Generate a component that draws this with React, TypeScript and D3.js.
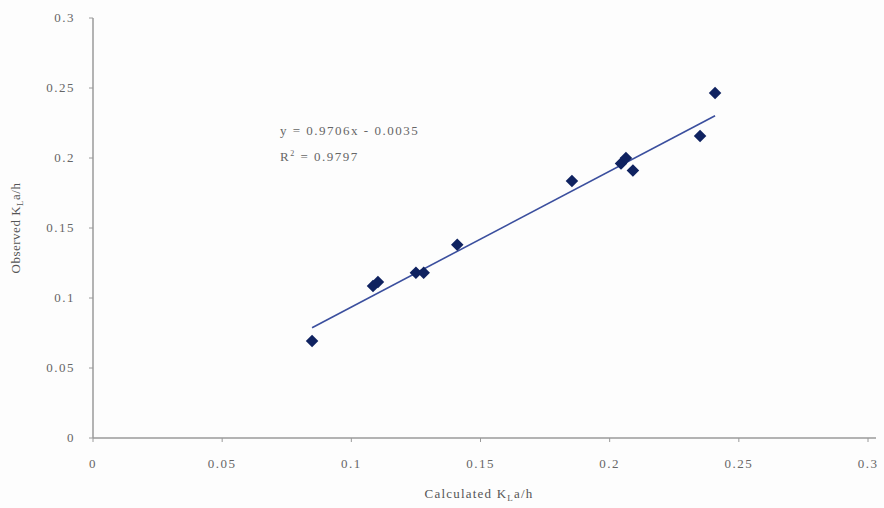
import { useRef, useEffect } from 'react'
import * as d3 from 'd3'

// calculated vs observed KLa/h
const calculated = [0.0848, 0.1084, 0.1103, 0.125, 0.128, 0.141, 0.1854, 0.2044, 0.2063, 0.209, 0.235, 0.2408]
const observed = [0.0693, 0.1086, 0.1114, 0.118, 0.118, 0.138, 0.1836, 0.196, 0.2, 0.191, 0.2157, 0.2464]
const xTicks = [0, 0.05, 0.1, 0.15, 0.2, 0.25, 0.3]
const yTicks = [0, 0.05, 0.1, 0.15, 0.2, 0.25, 0.3]
const slope = 0.9706
const intercept = -0.0035

export default function App() {
    const ref = useRef<SVGSVGElement>(null)

    useEffect(() => {
        const width = 884
        const height = 508
        const svg = d3.select(ref.current)
        svg.selectAll('*').remove()

        const x = d3.scaleLinear().domain([0, 0.3]).range([93, 868])
        const y = d3.scaleLinear().domain([0, 0.3]).range([438, 18])
        const grey = '#9a9a9a'
        const font = 'Liberation Serif, DejaVu Serif, serif'

        svg.append('rect').attr('width', width).attr('height', height).attr('fill', '#fdfdfd')

        // axes
        svg.append('line').attr('x1', x(0)).attr('x2', 876).attr('y1', y(0)).attr('y2', y(0))
            .attr('stroke', grey).attr('stroke-width', 1.5)
        svg.append('line').attr('x1', x(0)).attr('x2', x(0)).attr('y1', y(0)).attr('y2', y(0.3))
            .attr('stroke', grey).attr('stroke-width', 1.5)

        svg.selectAll('line.xt').data(xTicks).enter().append('line')
            .attr('x1', d => x(d)).attr('x2', d => x(d)).attr('y1', y(0)).attr('y2', y(0) + 4)
            .attr('stroke', grey)
        svg.selectAll('line.yt').data(yTicks).enter().append('line')
            .attr('x1', x(0) - 4).attr('x2', x(0)).attr('y1', d => y(d)).attr('y2', d => y(d))
            .attr('stroke', grey)

        svg.selectAll('text.xl').data(xTicks).enter().append('text')
            .attr('x', d => x(d)).attr('y', 468).attr('text-anchor', 'middle')
            .style('font-family', font).style('font-size', '13px').style('letter-spacing', '1.5px')
            .attr('fill', '#666').text(d => String(d))
        svg.selectAll('text.yl').data(yTicks).enter().append('text')
            .attr('x', 75).attr('y', d => y(d) + 4).attr('text-anchor', 'end')
            .style('font-family', font).style('font-size', '13px').style('letter-spacing', '1.5px')
            .attr('fill', '#666').text(d => String(d))

        // axis titles
        const xt = svg.append('text').attr('x', 479).attr('y', 498).attr('text-anchor', 'middle')
            .style('font-family', font).style('font-size', '13px').style('letter-spacing', '1.2px').attr('fill', '#555')
        xt.append('tspan').text('Calculated K')
        xt.append('tspan').attr('dy', 3).style('font-size', '9px').text('L')
        xt.append('tspan').attr('dy', -3).text('a/h')

        const yt = svg.append('text').attr('transform', 'translate(20,228) rotate(-90)').attr('text-anchor', 'middle')
            .style('font-family', font).style('font-size', '13px').style('letter-spacing', '0.5px').attr('fill', '#555')
        yt.append('tspan').text('Observed K')
        yt.append('tspan').attr('dy', 3).style('font-size', '9px').text('L')
        yt.append('tspan').attr('dy', -3).text('a/h')

        // trendline
        const x0 = d3.min(calculated) as number
        const x1 = d3.max(calculated) as number
        svg.append('line')
            .attr('x1', x(x0)).attr('y1', y(slope * x0 + intercept))
            .attr('x2', x(x1)).attr('y2', y(slope * x1 + intercept))
            .attr('stroke', '#3b4f9e').attr('stroke-width', 1.6)

        // points
        const diamond = d3.symbol().type(d3.symbolDiamond2).size(100)
        svg.selectAll('path.pt').data(calculated).enter().append('path')
            .attr('transform', (d, i) => `translate(${x(d)},${y(observed[i])})`)
            .attr('d', diamond()).attr('fill', '#0f2260')

        // equation
        svg.append('text').attr('x', 280).attr('y', 135)
            .style('font-family', font).style('font-size', '13px').style('letter-spacing', '1.5px').attr('fill', '#666')
            .text('y = 0.9706x - 0.0035')
        const r2 = svg.append('text').attr('x', 280).attr('y', 161)
            .style('font-family', font).style('font-size', '13px').style('letter-spacing', '1.5px').attr('fill', '#666')
        r2.append('tspan').text('R')
        r2.append('tspan').attr('dy', -5).style('font-size', '8px').text('2')
        r2.append('tspan').attr('dy', 5).text(' = 0.9797')
    }, [])

    return <svg ref={ref} width={884} height={508} style={{ position: 'absolute', left: 0, top: 0 }} />
}
